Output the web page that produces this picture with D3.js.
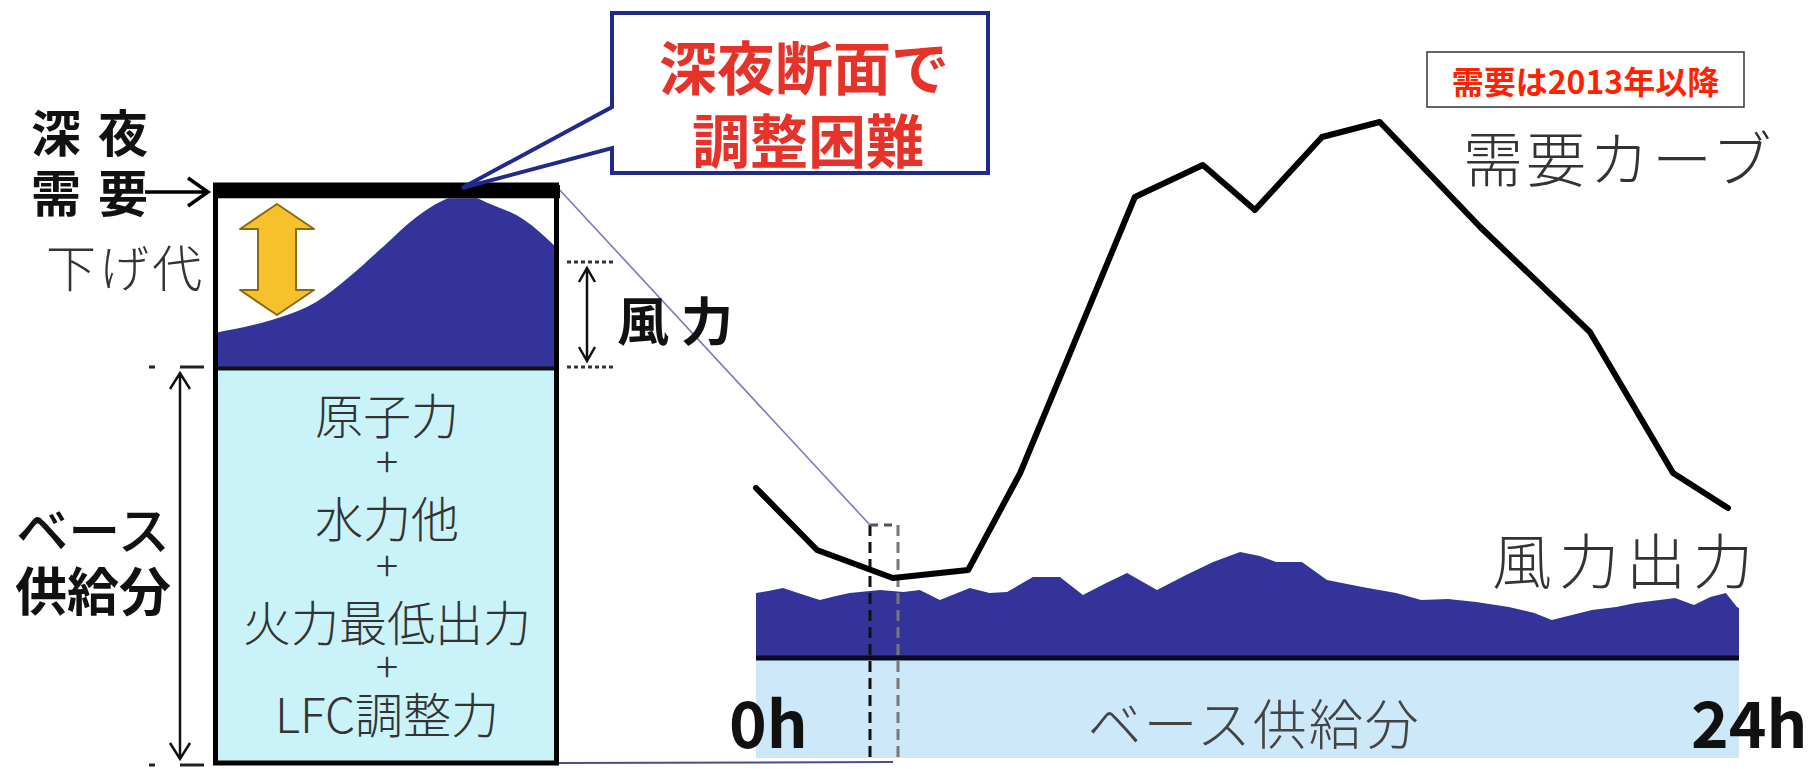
<!DOCTYPE html>
<html>
<head>
<meta charset="utf-8">
<script src="https://cdn.jsdelivr.net/npm/d3@7"></script>
<style>
  html, body { margin: 0; padding: 0; background: #ffffff; }
  svg { display: block; }
  text { font-family: "Noto Sans CJK JP", "Noto Sans", sans-serif; }
</style>
</head>
<body>
<svg id="chart" width="1809" height="769"></svg>
<script>
// ---- data -------------------------------------------------------------
// Daily demand curve (hour of day -> demand level)
const demandHours  = [0, 1.49, 3.34, 5.18, 6.45, 9.25, 10.91, 12.18, 13.82, 15.23, 17.68, 20.36, 22.39, 23.73];
const demandValues = [54.0, 41.6, 36.0, 37.6, 57.0, 112.2, 118.6, 109.6, 124.2, 127.2, 106.2, 85.2, 57.0, 50.0];

// Wind output stacked on top of the base supply (hour -> output)
const windHours  = [0, 0.30, 0.66, 1.10, 1.56, 1.95, 2.29, 3.03, 3.60, 4.00, 4.49, 5.22, 5.70, 6.13, 6.76, 7.42, 7.98, 8.55, 9.06, 9.79, 10.50, 11.16, 11.82, 12.30, 12.70, 13.33, 13.94, 14.80, 15.63, 16.24, 16.90, 17.58, 18.38, 19.00, 19.43, 20.41, 21.00, 21.48, 22.44, 22.90, 23.30, 23.68, 23.95, 24];
const windValues = [13.0, 13.4, 14.0, 12.8, 11.6, 12.4, 13.0, 13.6, 13.2, 13.6, 11.6, 14.0, 13.0, 13.2, 16.2, 16.2, 12.6, 15.0, 17.0, 13.6, 16.6, 19.2, 21.2, 20.4, 19.2, 19.2, 15.6, 14.2, 13.0, 11.6, 11.8, 11.2, 10.2, 9.0, 7.6, 9.6, 10.2, 11.0, 12.0, 10.6, 12.2, 13.0, 10.2, 10.0];

// Base supply level (same units as demand)
const baseSupply = 20;

// Late-night cross-section (position across the slice -> top of wind band)
const nightPos     = [0, 0.10, 0.18, 0.29, 0.39, 0.49, 0.59, 0.66, 0.73, 0.80, 0.91, 1.00];
const nightWindTop = [74.5, 75.7, 77.0, 79.7, 84.1, 89.3, 94.5, 97.1, 98.4, 96.9, 93.9, 89.4];
const nightBase    = 68.2;
const nightDemand  = 100;
const nightBarLow  = 97.7;

// Text
const baseItems    = ["原子力", "+", "水力他", "+", "火力最低出力", "+", "LFC調整力"];
const calloutLines = ["深夜断面で", "調整困難"];
const hourLabels   = ["0h", "24h"];
const noteText     = "需要は2013年以降";

// ---- setup ------------------------------------------------------------
const svg = d3.select("#chart");
const NAVY = "#333399";
const LINE_NAVY = "#1f2a8a";
const TXT = "#333333";

svg.append("rect").attr("width", 1809).attr("height", 769).attr("fill", "#ffffff");

// ---- right panel: daily profile --------------------------------------
const xR = d3.scaleLinear().domain([0, 24]).range([756, 1739]);
const yR = d3.scaleLinear().domain([0, baseSupply]).range([758, 658]);

const right = svg.append("g");

// base supply band
right.append("rect")
  .attr("x", xR(0)).attr("y", yR(baseSupply))
  .attr("width", xR(24) - xR(0)).attr("height", yR(0) - yR(baseSupply))
  .attr("fill", "#cde8f8");

// wind output area
const windData = windHours.map((h, i) => ({ h, v: windValues[i] }));
right.append("path")
  .datum(windData)
  .attr("fill", NAVY)
  .attr("d", d3.area()
    .x(d => xR(d.h))
    .y0(yR(baseSupply))
    .y1(d => yR(baseSupply + d.v)));

// base line
right.append("line")
  .attr("x1", xR(0)).attr("x2", xR(24))
  .attr("y1", yR(baseSupply)).attr("y2", yR(baseSupply))
  .attr("stroke", "#0a0a20").attr("stroke-width", 5);

// label inside base band
right.append("text")
  .attr("x", (xR(0) + xR(24)) / 2 - 160).attr("y", 721)
  .attr("dominant-baseline", "central")
  .attr("font-size", 54).attr("font-weight", 300)
  .attr("letter-spacing", 2)
  .attr("fill", "#444")
  .text("ベース供給分");

// hour labels
right.append("text")
  .attr("x", 729).attr("y", 748)
  .attr("font-family", "Liberation Sans, Arial, sans-serif")
  .attr("font-size", 64).attr("font-weight", 700).attr("fill", "#111")
  .text(hourLabels[0]);
right.append("text")
  .attr("x", 1691).attr("y", 748)
  .attr("font-family", "Liberation Sans, Arial, sans-serif")
  .attr("font-size", 64).attr("font-weight", 700).attr("fill", "#111")
  .text(hourLabels[1]);

// late-night slice marker (dashed)
const sliceL = 870, sliceR = 898, sliceTop = 525, sliceBot = 762;
right.append("line")
  .attr("x1", sliceL).attr("x2", sliceL).attr("y1", sliceTop).attr("y2", sliceBot)
  .attr("stroke", "#111").attr("stroke-width", 3).attr("stroke-dasharray", "11 6");
right.append("line")
  .attr("x1", sliceR).attr("x2", sliceR).attr("y1", sliceTop).attr("y2", sliceBot)
  .attr("stroke", "#777").attr("stroke-width", 3).attr("stroke-dasharray", "11 6");
right.append("line")
  .attr("x1", sliceL).attr("x2", sliceR).attr("y1", sliceTop).attr("y2", sliceTop)
  .attr("stroke", "#555").attr("stroke-width", 3).attr("stroke-dasharray", "8 6");

// demand curve
const demandData = demandHours.map((h, i) => ({ h, v: demandValues[i] }));
right.append("path")
  .datum(demandData)
  .attr("fill", "none")
  .attr("stroke", "#000")
  .attr("stroke-width", 6)
  .attr("stroke-linejoin", "round")
  .attr("stroke-linecap", "round")
  .attr("d", d3.line().x(d => xR(d.h)).y(d => yR(d.v)));

// series labels
right.append("text")
  .attr("x", 1463).attr("y", 155)
  .attr("dominant-baseline", "central")
  .attr("font-size", 60).attr("font-weight", 300).attr("letter-spacing", 3)
  .attr("fill", TXT)
  .text("需要カーブ");
right.append("text")
  .attr("x", 1492).attr("y", 557)
  .attr("dominant-baseline", "central")
  .attr("font-size", 60).attr("font-weight", 300).attr("letter-spacing", 7)
  .attr("fill", TXT)
  .text("風力出力");

// note box
right.append("rect")
  .attr("x", 1427).attr("y", 52).attr("width", 317).attr("height", 55)
  .attr("fill", "#fff").attr("stroke", "#333").attr("stroke-width", 1.5);
right.append("text")
  .attr("x", 1585.5).attr("y", 80)
  .attr("text-anchor", "middle").attr("dominant-baseline", "central")
  .attr("font-size", 32).attr("font-weight", 700).attr("fill", "#ff2200")
  .text(noteText);

// ---- left panel: late-night cross-section -----------------------------
const xL = d3.scaleLinear().domain([0, 1]).range([218, 555]);
const yL = d3.scaleLinear().domain([0, 100]).range([762, 185]);

const left = svg.append("g");

// connector lines from the slice to the enlarged box
left.append("line")
  .attr("x1", 557).attr("y1", yL(nightDemand) + 2).attr("x2", sliceL).attr("y2", sliceTop)
  .attr("stroke", "#7a78c0").attr("stroke-width", 1.6);
left.append("line")
  .attr("x1", 557).attr("y1", 763).attr("x2", 893).attr("y2", 762)
  .attr("stroke", "#4a4f8a").attr("stroke-width", 2);

// base supply block
left.append("rect")
  .attr("x", xL(0)).attr("y", yL(nightBase))
  .attr("width", xL(1) - xL(0)).attr("height", yL(0) - yL(nightBase))
  .attr("fill", "#c9f3f8");

// wind band in the slice
left.append("clipPath").attr("id", "nightClip")
  .append("rect")
  .attr("x", xL(0)).attr("y", yL(nightBarLow))
  .attr("width", xL(1) - xL(0)).attr("height", yL(nightBase) - yL(nightBarLow));
const nightData = nightPos.map((p, i) => ({ p, v: nightWindTop[i] }));
left.append("path")
  .datum(nightData)
  .attr("clip-path", "url(#nightClip)")
  .attr("fill", NAVY)
  .attr("d", d3.area()
    .curve(d3.curveMonotoneX)
    .x(d => xL(d.p))
    .y0(yL(nightBase))
    .y1(d => yL(d.v)));

// separator between wind and base supply
left.append("line")
  .attr("x1", xL(0)).attr("x2", xL(1))
  .attr("y1", yL(nightBase)).attr("y2", yL(nightBase))
  .attr("stroke", "#111").attr("stroke-width", 4);

// box outline
left.append("rect")
  .attr("x", 215.5).attr("y", yL(nightDemand))
  .attr("width", 341).attr("height", yL(0) + 1 - yL(nightDemand))
  .attr("fill", "none").attr("stroke", "#000").attr("stroke-width", 5);

// night demand bar
left.append("rect")
  .attr("x", 213).attr("y", yL(nightDemand))
  .attr("width", 347).attr("height", yL(nightBarLow) - yL(nightDemand))
  .attr("fill", "#000");

// yellow double arrow (adjustable margin)
const ax = 277, aTop = 204, aBot = 315, headW = 37, shaftW = 19, headH = 25;
const arrowPath = [
  [ax, aTop], [ax + headW, aTop + headH], [ax + shaftW, aTop + headH],
  [ax + shaftW, aBot - headH], [ax + headW, aBot - headH], [ax, aBot],
  [ax - headW, aBot - headH], [ax - shaftW, aBot - headH],
  [ax - shaftW, aTop + headH], [ax - headW, aTop + headH]
];
left.append("path")
  .attr("d", d3.line()(arrowPath) + "Z")
  .attr("fill", "#f6c22c").attr("stroke", "#8c6a10").attr("stroke-width", 2)
  .attr("stroke-linejoin", "round");

// stacked list of base supply sources (one text block, one line each)
const itemY = [417, 463, 520, 567, 624, 668, 716];
const itemBlock = left.append("text")
  .attr("text-anchor", "middle")
  .attr("font-weight", 300)
  .attr("fill", TXT);
itemBlock.selectAll("tspan")
  .data(baseItems)
  .join("tspan")
  .attr("x", 387)
  .attr("y", (d, i) => itemY[i] + (d === "+" ? 14 : 17))
  .attr("font-size", d => d === "+" ? 42 : 48)
  .text(d => d);

// "深夜需要" with arrow
left.append("text")
  .attr("x", 31).attr("y", 130).attr("dominant-baseline", "central")
  .attr("font-size", 50).attr("font-weight", 700).attr("letter-spacing", 17)
  .attr("fill", "#111").text("深夜");
left.append("text")
  .attr("x", 31).attr("y", 190).attr("dominant-baseline", "central")
  .attr("font-size", 50).attr("font-weight", 700).attr("letter-spacing", 17)
  .attr("fill", "#111").text("需要");
left.append("path")
  .attr("d", "M145,192 H208 M188,178 L208,192 L188,206")
  .attr("fill", "none").attr("stroke", "#000").attr("stroke-width", 3.5)
  .attr("stroke-linejoin", "miter");

// "下げ代"
left.append("text")
  .attr("x", 46).attr("y", 265).attr("dominant-baseline", "central")
  .attr("font-size", 50).attr("font-weight", 300).attr("letter-spacing", 3)
  .attr("fill", TXT).text("下げ代");

// base supply span arrow
const vArrow = (x, y1, y2, w, h) =>
  `M${x},${y1} V${y2} M${x - w},${y1 + h} L${x},${y1} L${x + w},${y1 + h} M${x - w},${y2 - h} L${x},${y2} L${x + w},${y2 - h}`;
left.append("path")
  .attr("d", vArrow(180, 373, 759, 10, 16))
  .attr("fill", "none").attr("stroke", "#111").attr("stroke-width", 2.5);
left.append("path")
  .attr("d", "M149,367 H155 M180,367 H204 M149,765 H155 M180,765 H204")
  .attr("fill", "none").attr("stroke", "#222").attr("stroke-width", 3);
left.append("text")
  .attr("x", 93).attr("y", 527).attr("text-anchor", "middle").attr("dominant-baseline", "central")
  .attr("font-size", 52).attr("font-weight", 500).attr("fill", "#111").text("ベース");
left.append("text")
  .attr("x", 93).attr("y", 588).attr("text-anchor", "middle").attr("dominant-baseline", "central")
  .attr("font-size", 52).attr("font-weight", 700).attr("fill", "#111").text("供給分");

// wind span arrow beside the box
left.append("path")
  .attr("d", "M567,262 H614 M567,367 H614")
  .attr("fill", "none").attr("stroke", "#333").attr("stroke-width", 3)
  .attr("stroke-dasharray", "4 3");
left.append("path")
  .attr("d", vArrow(587, 268, 361, 8, 14))
  .attr("fill", "none").attr("stroke", "#111").attr("stroke-width", 2.5);
left.append("text")
  .attr("x", 617).attr("y", 318).attr("dominant-baseline", "central")
  .attr("font-size", 52).attr("font-weight", 700).attr("letter-spacing", 12)
  .attr("fill", "#111").text("風力");

// callout
const callout = "M612,13 H988 V173 H612 V148 L462,188 L612,107 Z";
svg.append("path")
  .attr("d", callout)
  .attr("fill", "#fff").attr("stroke", LINE_NAVY).attr("stroke-width", 4)
  .attr("stroke-linejoin", "miter");
svg.selectAll("text.callout")
  .data(calloutLines)
  .join("text")
  .attr("class", "callout")
  .attr("x", (d, i) => i === 0 ? 804 : 808)
  .attr("y", (d, i) => i === 0 ? 65 : 138)
  .attr("text-anchor", "middle").attr("dominant-baseline", "central")
  .attr("font-size", 58).attr("font-weight", 700)
  .attr("fill", "#e5332a")
  .text(d => d);
</script>
</body>
</html>
